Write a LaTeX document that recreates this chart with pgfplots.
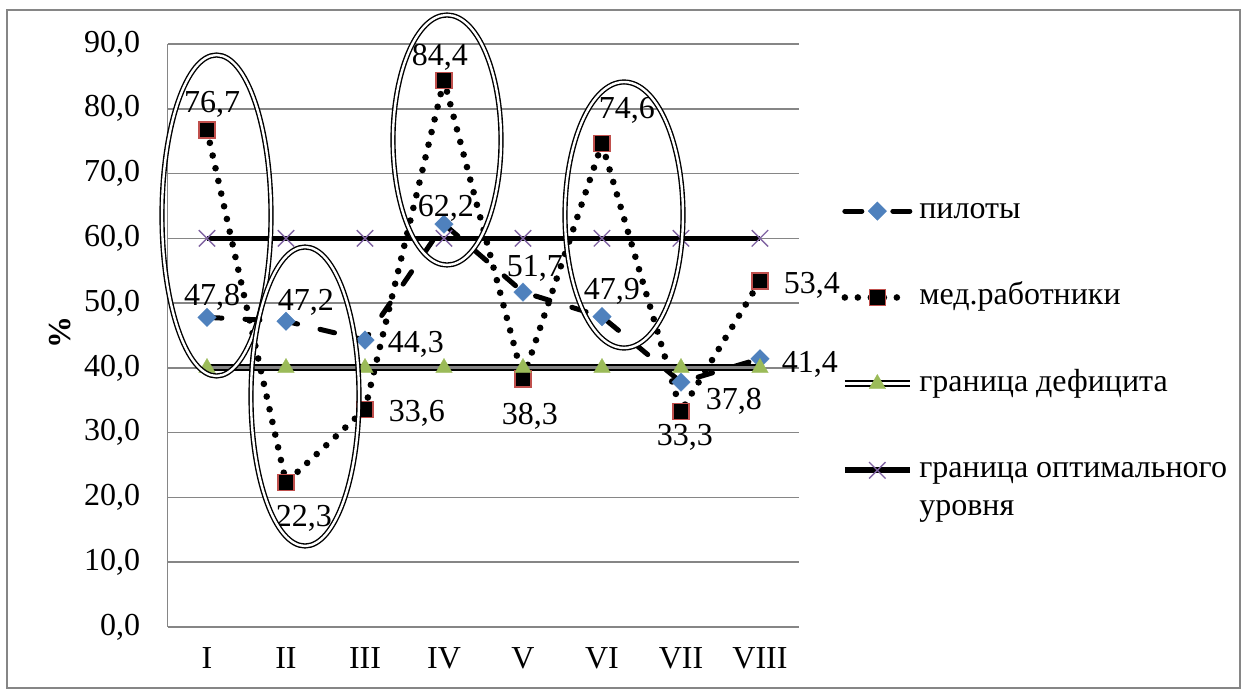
\documentclass[border=0pt]{standalone}
\usepackage{fontspec}
\setmainfont{Liberation Serif}
\usepackage{pgfplots}
\pgfplotsset{compat=1.18}
\definecolor{pblue}{HTML}{4F81BD}
\definecolor{pred}{HTML}{C0504D}
\definecolor{pgreen}{HTML}{9BBB59}
\definecolor{ppurple}{HTML}{8064A2}
\definecolor{gridgray}{RGB}{134,134,134}
\pgfkeys{/pgf/number format/.cd, use comma, fixed, fixed zerofill, precision=1, assume math mode=true}

\pgfplotstableread{
x y dx dy
0 47.8 2.5 10
1 47.2 10 9.5
2 44.3 25.5 -2
3 62.2 1 8
4 51.7 6 12
5 47.9 5 12.5
6 37.8 26.5 -9.5
7 41.4 25 -3
}\pilots
\pgfplotstableread{
x y dx dy
0 76.7 2.5 13
1 22.3 9 -18
2 33.6 26 -2
3 84.4 -2 11.5
4 38.3 3.5 -18.5
5 74.6 12.5 16.5
6 33.3 2 -13
7 53.4 26 -2
}\med
\pgfplotstableread{
x y
0 40
1 40
2 40
3 40
4 40
5 40
6 40
7 40
}\defic
\pgfplotstableread{
x y
0 60
1 60
2 60
3 60
4 60
5 60
6 60
7 60
}\optim

\begin{document}
\fontsize{16}{19}\selectfont
\begin{tikzpicture}
\tikzset{dbl/.style={draw=black, line width=0.7pt, double=white, double distance=1.2pt}}
\useasboundingbox (0,0) rectangle (621.5pt,345.5pt);
\draw[color=gridgray, line width=1pt] (3.5pt,1.5pt) rectangle (620pt,340.5pt);
\begin{axis}[
  at={(83.75pt,32pt)}, anchor=south west,
  scale only axis, width=316pt, height=291.5pt,
  xmin=-0.5, xmax=7.5, ymin=0, ymax=90,
  xtick={0,...,7}, xticklabels={I,II,III,IV,V,VI,VII,VIII},
  ytick={0,10,...,90},
  axis x line*=bottom, axis y line*=left,
  axis line style={gridgray, line width=0.75pt, -},
  ymajorgrids, grid style={gridgray, line width=0.75pt},
  major tick length=0pt,
  yticklabel style={anchor=east, inner sep=0pt, xshift=-13.5pt},
  xticklabel style={anchor=north, inner sep=0pt, yshift=-10pt},
  ticklabel style={font=\fontsize{16}{19}\selectfont},
  ylabel={\textbf{\%}},
  every axis y label/.style={at={(axis description cs:-0.170,0.506)}, rotate=90, anchor=center, font=\fontsize{16}{19}\selectfont},
  legend image code/.code={\draw[mark repeat=2,mark phase=2,#1] plot coordinates {(0pt,0pt)(16.25pt,0pt)(32.5pt,0pt)};},
  legend style={draw=none, fill=none, inner sep=0pt, at={(1.0656,0.739)}, anchor=north west,
    row sep=28.7pt, column sep=3pt,
    nodes={inner sep=0pt, text height=11pt, text depth=3.5pt, font=\fontsize{16}{19}\selectfont}},
  legend cell align=left,
  nodes near coords style={font=\fontsize{16}{19}\selectfont, anchor=center, inner sep=0pt, xshift=\labdx pt, yshift=\labdy pt, solid, black},
]
\addplot[black, line width=2.5pt, line cap=round, dash pattern=on 7.5pt off 11.5pt,
  mark=square*, mark size=3.3pt, mark options={solid, rotate=45, fill=pblue, draw=pblue, line width=0.1pt},
  nodes near coords,
  visualization depends on={\thisrow{dx}\as\labdx},
  visualization depends on={\thisrow{dy}\as\labdy},
  legend image post style={dash pattern=on 8.5pt off 15.5pt}]
  table[x=x,y=y] {\pilots};
\addlegendentry{пилоты}
\addplot[black, line width=3.3pt, line cap=round, dash pattern=on 0pt off 6.5pt,
  mark=square*, mark size=4pt, mark options={solid, fill=black, draw=pred, line width=0.7pt},
  nodes near coords,
  visualization depends on={\thisrow{dx}\as\labdx},
  visualization depends on={\thisrow{dy}\as\labdy}]
  table[x=x,y=y] {\med};
\addlegendentry{мед.работники}
\addplot[black, line width=1pt, double=gridgray, double distance=1.5pt,
  mark=triangle*, mark size=4.8pt, mark options={solid, fill=pgreen, draw=pgreen, line width=0.1pt},
  legend image post style={double=white}]
  table[x=x,y=y] {\defic};
\addlegendentry{граница дефицита}
\addplot[black, line width=2.8pt,
  mark=x, mark size=5.8pt, mark options={solid, draw=ppurple, line width=0.65pt}]
  table[x=x,y=y] {\optim};
\addlegendentry{\vtop{\baselineskip=19pt\hbox{граница оптимального}\hbox{уровня}}}
\end{axis}
\draw[dbl] (108.25pt,237.75pt) ellipse [x radius=27.25pt, y radius=80.25pt];
\draw[dbl] (152.5pt,147.25pt) ellipse [x radius=27pt, y radius=74.75pt];
\draw[dbl] (223.5pt,275.5pt) ellipse [x radius=27pt, y radius=62.5pt];
\draw[dbl] (312pt,238pt) ellipse [x radius=29.5pt, y radius=66.5pt];
\end{tikzpicture}
\end{document}
